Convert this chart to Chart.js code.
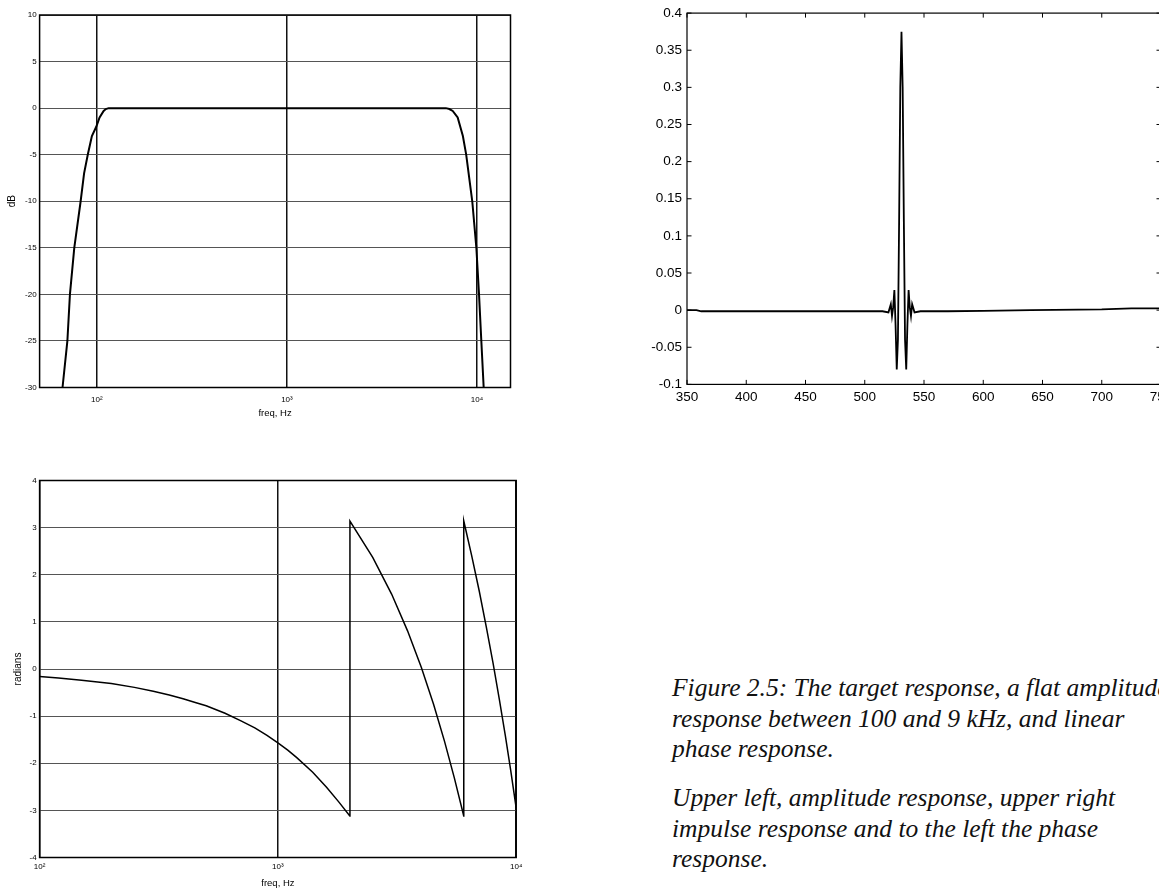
<!DOCTYPE html>
<html>
<head>
<meta charset="utf-8">
<title>Target response</title>
<script src="https://cdn.jsdelivr.net/npm/chart.js@4.4.1/dist/chart.umd.min.js"></script>
<style>
  html, body { margin: 0; padding: 0; background: #fff; overflow: hidden; }
  body { width: 1159px; height: 889px; position: relative; }
  canvas { position: absolute; }
  #amp { left: 0; top: 0; }
  #imp { left: 600px; top: 0; }
  #phase { left: 0; top: 460px; }
  .caption {
    position: absolute; left: 672px;
    font-family: "Liberation Serif", "Times New Roman", serif;
    font-style: italic; font-size: 25.5px; line-height: 30.5px;
    white-space: nowrap; color: #111;
  }
</style>
</head>
<body>
<canvas id="amp" width="520" height="422"></canvas>
<canvas id="imp" width="600" height="420"></canvas>
<canvas id="phase" width="540" height="429"></canvas>
<div class="caption" style="top:673px">Figure 2.5: The target response, a flat amplitude<br>response between 100 and 9 kHz, and linear<br>phase response.</div>
<div class="caption" style="top:783px">Upper left, amplitude response, upper right<br>impulse response and to the left the phase<br>response.</div>
<script>
// amplitude response, dB
const ampFreq = [66, 70, 72.2, 76.1, 82.2, 85.7, 89.6, 94.2, 99.3, 103.4, 108.6, 111.5, 115.4,
                 6600, 6855, 7150, 7450, 7910, 8425, 8770, 9440, 9920, 10245, 10535, 10840]
const ampDb = [-30, -25, -20, -15, -10, -7, -5, -3, -2, -1, -0.3, -0.1, 0,
               0, 0, -0.1, -0.3, -1, -3, -5, -10, -15, -20, -25, -30]

// phase response, radians (wraps at +-pi)
const phaseFreq = [100, 120, 150, 200, 250, 300, 350, 400, 450, 500, 600, 700, 800, 900, 1000, 1100, 1200, 1400, 1600, 1800, 2004,
                   2006, 2500, 3000, 3500, 4000, 4500, 5000, 5500, 6024,
                   6026, 6500, 7000, 7500, 8000, 8500, 9000, 9500, 10000]
const phaseRad = [-0.16, -0.19, -0.24, -0.31, -0.39, -0.47, -0.55, -0.63, -0.71, -0.78, -0.94, -1.10, -1.25, -1.41, -1.57, -1.72, -1.88, -2.19, -2.51, -2.82, -3.12,
                  3.14, 2.37, 1.59, 0.81, 0.03, -0.75, -1.53, -2.31, -3.12,
                  3.14, 2.41, 1.65, 0.88, 0.12, -0.65, -1.41, -2.18, -2.95]

// impulse response, sample index
const impN = [350, 358, 362, 400, 450, 500, 515, 520, 522, 523, 524, 525, 526, 527, 528, 529, 530,
              531, 532, 533, 534, 535, 536, 537, 538, 539, 540, 542, 547, 570, 600, 640, 700, 725, 750]
const impVal = [0, 0, -0.0015, -0.0015, -0.0015, -0.0015, -0.0015, -0.003, 0.008, -0.008, 0.004, 0.027, -0.02, -0.08, -0.04, 0.12, 0.30,
                0.375, 0.30, 0.12, -0.04, -0.08, -0.02, 0.027, 0.004, -0.008, 0.008, -0.003, -0.0015, -0.0015, -0.001, 0, 0.001, 0.0025, 0.0025]

// log axis decades and their labels
const decades = [100, 1000, 10000]
const decadeLabels = ['10²', '10³', '10⁴']

Chart.defaults.font.family = '"Liberation Sans", Arial, sans-serif'
Chart.defaults.color = '#000'

// box round the plot area, with optional inward tick marks (matlab style)
const frame = {
    id: 'frame',
    afterDraw(chart, args, opts) {
        const { ctx, chartArea: a, scales } = chart
        ctx.save()
        ctx.strokeStyle = '#000'
        ctx.lineWidth = opts.width || 1
        ctx.strokeRect(a.left, a.top, a.right - a.left, a.bottom - a.top)
        if (opts.tickLen) {
            const len = opts.tickLen
            ctx.lineWidth = 1
            ctx.beginPath()
            for (const t of scales.x.ticks) {
                const px = scales.x.getPixelForValue(t.value)
                ctx.moveTo(px, a.bottom); ctx.lineTo(px, a.bottom - len)
                ctx.moveTo(px, a.top); ctx.lineTo(px, a.top + len)
            }
            for (const t of scales.y.ticks) {
                const py = scales.y.getPixelForValue(t.value)
                ctx.moveTo(a.left, py); ctx.lineTo(a.left + len, py)
                ctx.moveTo(a.right, py); ctx.lineTo(a.right - len, py)
            }
            ctx.stroke()
        }
        ctx.restore()
    }
}

function toPoints(xs, ys) {
    return xs.map((x, i) => ({ x: x, y: ys[i] }))
}

function lineSet(xs, ys, width) {
    return {
        data: toPoints(xs, ys),
        borderColor: '#000',
        borderWidth: width,
        pointRadius: 0,
        tension: 0
    }
}

const baseOptions = {
    responsive: false,
    animation: false,
    devicePixelRatio: 1,
    events: []
}

function freqAxis(min, max, fitHeight, labelPad, titlePad) {
    return {
        type: 'logarithmic',
        min: min,
        max: max,
        afterBuildTicks: s => { s.ticks = decades.map(v => ({ value: v })) },
        afterFit: s => { s.height = fitHeight },
        ticks: {
            callback: v => decadeLabels[decades.indexOf(v)],
            font: { size: 8 },
            padding: labelPad,
            maxRotation: 0,
            autoSkip: false
        },
        grid: { color: '#111', lineWidth: 1.5, drawTicks: false },
        border: { display: false },
        title: { display: true, text: 'freq, Hz', font: { size: 9.5 }, padding: { top: 0, bottom: titlePad } }
    }
}

// upper left: amplitude
new Chart(document.getElementById('amp'), {
    type: 'line',
    data: { datasets: [lineSet(ampFreq, ampDb, 2)] },
    options: {
        ...baseOptions,
        layout: { padding: { top: 15, right: 9.5, left: 0, bottom: 0 } },
        plugins: { legend: { display: false }, tooltip: { enabled: false }, frame: { width: 1.5 } },
        scales: {
            x: freqAxis(50, 15000, 34.5, 7, 3.3),
            y: {
                min: -30, max: 10,
                afterFit: s => { s.width = 39.6 },
                ticks: { stepSize: 5, font: { size: 8 }, padding: 3 },
                grid: { color: '#555', lineWidth: 1, drawTicks: false },
                border: { display: false },
                title: { display: true, text: 'dB', font: { size: 10 }, padding: { top: 6, bottom: 0 } }
            }
        }
    },
    plugins: [frame]
})

// upper right: impulse response
new Chart(document.getElementById('imp'), {
    type: 'line',
    data: { datasets: [lineSet(impN, impVal, 1.8)] },
    options: {
        ...baseOptions,
        layout: { padding: { top: 12, right: 39, left: 0, bottom: 0 } },
        plugins: { legend: { display: false }, tooltip: { enabled: false }, frame: { width: 1.2, tickLen: 4.5 } },
        scales: {
            x: {
                type: 'linear', min: 350, max: 750,
                afterFit: s => { s.height = 35.6 },
                ticks: { stepSize: 50, font: { size: 13.5 }, padding: 5, maxRotation: 0, autoSkip: false },
                grid: { display: false, drawTicks: false },
                border: { display: false }
            },
            y: {
                min: -0.1, max: 0.4,
                afterFit: s => { s.width = 87 },
                ticks: { stepSize: 0.05, font: { size: 13.5 }, padding: 5, callback: v => String(+v.toFixed(2)) },
                grid: { display: false, drawTicks: false },
                border: { display: false }
            }
        }
    },
    plugins: [frame]
})

// lower left: phase
new Chart(document.getElementById('phase'), {
    type: 'line',
    data: { datasets: [lineSet(phaseFreq, phaseRad, 1.5)] },
    options: {
        ...baseOptions,
        layout: { padding: { top: 20.5, right: 23.8, left: 0, bottom: 0 } },
        plugins: { legend: { display: false }, tooltip: { enabled: false }, frame: { width: 1.5 } },
        scales: {
            x: freqAxis(100, 10000, 31.5, 4, 0.3),
            y: {
                min: -4, max: 4,
                afterFit: s => { s.width = 39.6 },
                ticks: { stepSize: 1, font: { size: 8 }, padding: 3 },
                grid: { color: '#555', lineWidth: 1, drawTicks: false },
                border: { display: false },
                title: { display: true, text: 'radians', font: { size: 10 }, padding: { top: 12.6, bottom: 0 } }
            }
        }
    },
    plugins: [frame]
})
</script>
</body>
</html>
